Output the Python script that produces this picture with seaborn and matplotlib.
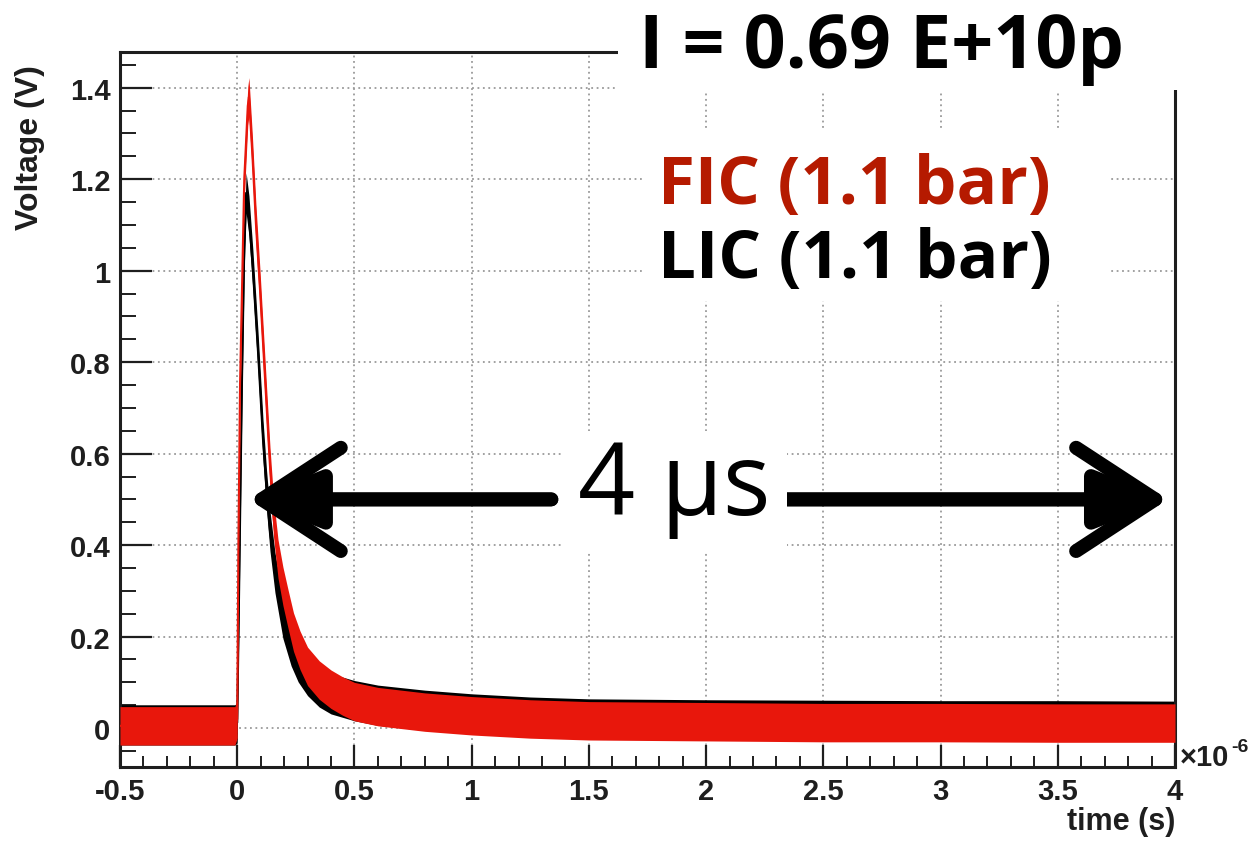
import numpy as np
import pandas as pd
import matplotlib
matplotlib.use("Agg")
import matplotlib.pyplot as plt
import seaborn as sns
from matplotlib.patches import Rectangle
from matplotlib.ticker import MultipleLocator

# ---------------- data (time in units of 1e-6 s) ----------------
fic_time = [-0.5, -0.25, -0.01, 0.0, 0.005, 0.012, 0.02, 0.03, 0.045, 0.05, 0.065, 0.08,
            0.097, 0.108, 0.119, 0.13, 0.14, 0.155, 0.174, 0.195, 0.217, 0.24, 0.268,
            0.3, 0.35, 0.4, 0.45, 0.5, 0.6, 0.8, 1.0, 1.25, 1.5, 2.0, 2.5, 3.0, 3.5, 4.0]
fic_volt = [0.005, 0.005, 0.005, 0.02, 0.40, 0.75, 0.95, 1.20, 1.36, 1.38, 1.25, 1.10,
            0.96, 0.86, 0.76, 0.66, 0.57, 0.46, 0.37, 0.31, 0.26, 0.21, 0.17,
            0.135, 0.105, 0.085, 0.07, 0.058, 0.047, 0.035, 0.027, 0.02, 0.016, 0.014,
            0.012, 0.012, 0.011, 0.011]
fic_noise = 0.042

lic_time = [-0.5, -0.25, -0.01, 0.0, 0.008, 0.02, 0.03, 0.038, 0.05, 0.067, 0.089, 0.11,
            0.125, 0.14, 0.161, 0.195, 0.23, 0.26, 0.3, 0.35, 0.4, 0.5, 0.6, 0.8, 1.0,
            1.25, 1.5, 2.0, 2.5, 3.0, 3.5, 4.0]
lic_volt = [0.007, 0.007, 0.007, 0.012, 0.30, 0.75, 1.05, 1.17, 1.12, 1.00, 0.82, 0.63,
            0.52, 0.43, 0.34, 0.24, 0.18, 0.145, 0.115, 0.09, 0.075, 0.06, 0.05, 0.039,
            0.031, 0.024, 0.02, 0.018, 0.017, 0.016, 0.016, 0.015]
lic_noise = 0.044

x_ticks = [-0.5, 0, 0.5, 1, 1.5, 2, 2.5, 3, 3.5, 4]
x_tick_labels = ["-0.5", "0", "0.5", "1", "1.5", "2", "2.5", "3", "3.5", "4"]
y_ticks = [0, 0.2, 0.4, 0.6, 0.8, 1.0, 1.2, 1.4]
y_tick_labels = ["0", "0.2", "0.4", "0.6", "0.8", "1", "1.2", "1.4"]

title_text = "I = 0.69 E+10p"
fic_label = "FIC (1.1 bar)"
lic_label = "LIC (1.1 bar)"
span_label = "4 μs"

# ---------------- figure ----------------
sns.set_style("white")
plt.rcParams["font.family"] = ["Liberation Sans", "DejaVu Sans"]

W, H = 1259, 845
fig = plt.figure(figsize=(W / 100, H / 100), dpi=100)
fig.patch.set_facecolor("white")

def fx(px):
    return px / W

def fy(py):
    return (H - py) / H

ax = fig.add_axes([fx(120), fy(768), (1175 - 120) / W, (768 - 53) / H])
ax.set_xlim(-0.5, 4.0)
ax.set_ylim(-0.085, 1.478)

red = "#E8170C"
fic_df = pd.DataFrame({"time": fic_time, "volt": fic_volt})
lic_df = pd.DataFrame({"time": lic_time, "volt": lic_volt})

# LIC (black) underneath, FIC (red) on top
ax.fill_between(lic_df["time"], lic_df["volt"] - lic_noise, lic_df["volt"] + lic_noise,
                color="black", lw=0, zorder=2)
sns.lineplot(data=lic_df, x="time", y="volt", ax=ax, color="black", lw=1.5, zorder=2)
ax.fill_between(fic_df["time"], fic_df["volt"] - fic_noise, fic_df["volt"] + fic_noise,
                color=red, lw=0, zorder=3)
sns.lineplot(data=fic_df, x="time", y="volt", ax=ax, color=red, lw=1.5, zorder=3)

# grid
ax.set_xticks(x_ticks)
ax.set_xticklabels(x_tick_labels)
ax.set_yticks(y_ticks)
ax.set_yticklabels(y_tick_labels)
ax.xaxis.set_minor_locator(MultipleLocator(0.1))
ax.yaxis.set_minor_locator(MultipleLocator(0.05))
ax.grid(True, which="major", color="#9a9a9a", lw=1.3, linestyle=(0, (1, 2)))
ax.set_axisbelow(True)

for s in ax.spines.values():
    s.set_linewidth(2.2)
    s.set_color("#1e1e1e")

ax.tick_params(axis="x", which="major", direction="in", length=15.5, width=1.6,
               labelsize=21, pad=7, colors="#1e1e1e", bottom=True, top=False)
ax.tick_params(axis="x", which="minor", direction="in", length=8, width=1.4,
               bottom=True, top=False, colors="#1e1e1e")
ax.tick_params(axis="y", which="major", direction="in", length=23, width=1.6,
               labelsize=21, pad=7, colors="#1e1e1e", left=True, right=False)
ax.tick_params(axis="y", which="minor", direction="in", length=11.5, width=1.4,
               left=True, right=False, colors="#1e1e1e")
for lab in ax.get_xticklabels() + ax.get_yticklabels():
    lab.set_fontweight("bold")

ax.set_xlabel("time (s)", fontsize=22, fontweight="bold", loc="right", color="#1e1e1e")
ax.xaxis.set_label_coords(1.0, -0.055)
ax.set_ylabel("Voltage (V)", fontsize=23, fontweight="bold", loc="top", color="#1e1e1e")
ax.yaxis.set_label_coords(-0.071, 0.983)

# axis multiplier "x10^-6"
fig.text(fx(1180), fy(766), "×10", fontsize=21, fontweight="bold", color="#1e1e1e",
         ha="left", va="baseline")
fig.text(fx(1231), fy(752), "-6", fontsize=14, fontweight="bold", color="#1e1e1e",
         ha="left", va="baseline")

# double arrow (4 us span): open barbed head + smaller filled core
open_kw = dict(arrowstyle="->,head_length=0.95,head_width=0.62", lw=10, color="black",
               mutation_scale=60, shrinkA=0, shrinkB=0)
fill_kw = dict(arrowstyle="-|>,head_length=0.7,head_width=0.28", lw=10, color="black",
               mutation_scale=60, shrinkA=0, shrinkB=0)
for head, tail in [((0.05, 0.5), (1.34, 0.5)), ((3.97, 0.5), (2.34, 0.5))]:
    ax.annotate("", xy=head, xytext=tail, arrowprops=open_kw, zorder=5)
    ax.annotate("", xy=head, xytext=tail, arrowprops=fill_kw, zorder=5)

# white boxes (overlay)
for (x0, y0, x1, y1) in [(618, 0, 1259, 91), (645, 130, 1110, 302), (562, 432, 787, 553)]:
    fig.patches.append(Rectangle((fx(x0), fy(y1)), (x1 - x0) / W, (y1 - y0) / H,
                                 transform=fig.transFigure, facecolor="white",
                                 edgecolor="none", zorder=5))

fig.text(fx(639), fy(68), title_text, fontsize=53, fontweight="bold", color="black",
         family=["Open Sans", "DejaVu Sans"], ha="left", va="baseline", zorder=6)
fig.text(fx(658), fy(204), fic_label, fontsize=48.5, fontweight="bold", color="#B51A00",
         family=["Open Sans", "DejaVu Sans"], ha="left", va="baseline", zorder=6)
fig.text(fx(658), fy(278), lic_label, fontsize=48.5, fontweight="bold", color="black",
         family=["Open Sans", "DejaVu Sans"], ha="left", va="baseline", zorder=6)
fig.text(fx(578), fy(515), span_label, fontsize=72, color="black",
         family=["Open Sans", "DejaVu Sans"], ha="left", va="baseline", zorder=6)

fig.savefig("out.png", dpi=100, facecolor="white")
